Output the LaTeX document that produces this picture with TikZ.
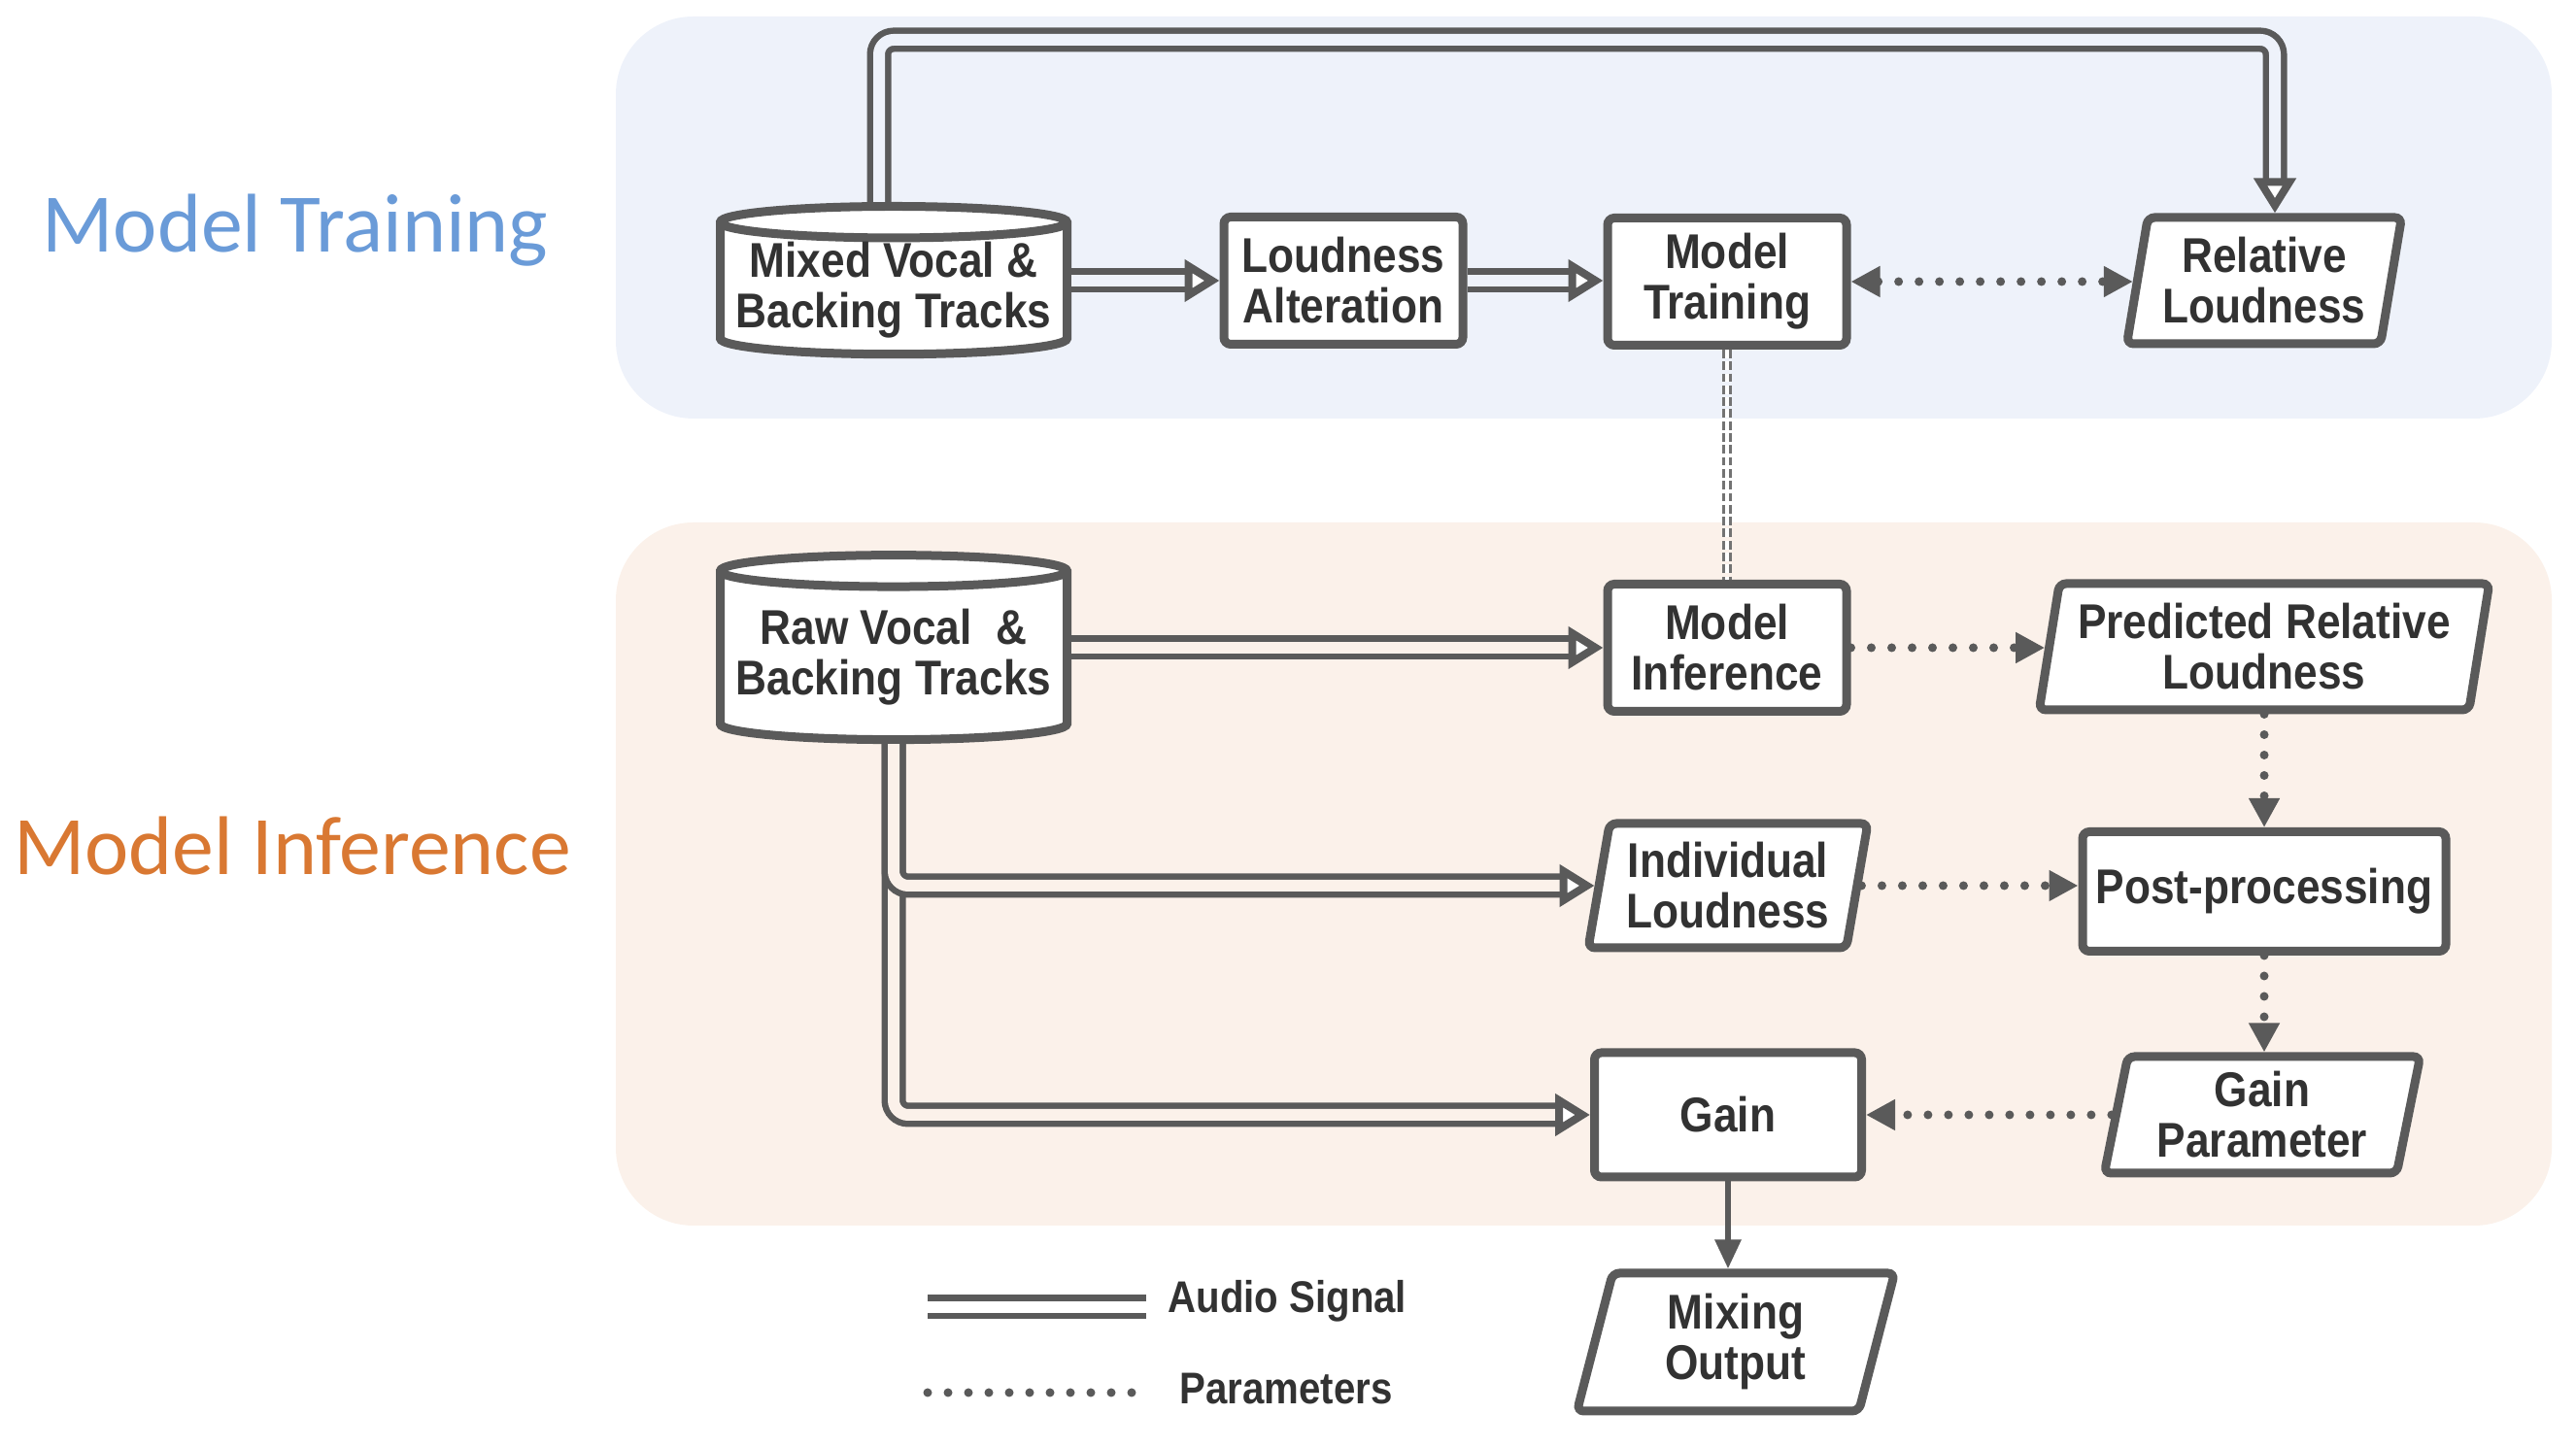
\documentclass[tikz,border=0pt]{standalone}
\usepackage{fontspec}
\setmainfont{Liberation Sans}[FakeStretch=0.88]
\newfontfamily\titlefont{Carlito}
\usepackage{tikz}
\usetikzlibrary{shapes.geometric,arrows.meta}

\definecolor{panelblue}{RGB}{238,242,250}
\definecolor{panelorange}{RGB}{251,241,234}
\definecolor{titleblue}{RGB}{106,155,216}
\definecolor{titleorange}{RGB}{217,120,50}
\definecolor{linegray}{RGB}{90,90,90}
\definecolor{textgray}{RGB}{50,50,50}

\begin{document}
\begin{tikzpicture}[
  box/.style={draw=linegray, line width=0.09cm, fill=white, text=textgray,
    font=\bfseries\fontsize{14.3}{14.8}\selectfont, align=center, inner sep=0pt},
  proc/.style={box, rectangle, rounded corners=2pt, minimum width=#1, minimum height=1.31cm},
  para/.style={box, trapezium, rounded corners=2pt, trapezium left angle=78,
    trapezium right angle=102, trapezium stretches=true, minimum width=#1, minimum height=1.30cm},
  db/.style={box, cylinder, shape border rotate=90, aspect=0.1, minimum width=3.57cm, minimum height=#1},
  title/.style={font=\titlefont\fontsize{24.4}{28}\selectfont},
  legend/.style={text=textgray, font=\bfseries\fontsize{13}{15}\selectfont},
  audio/.style={draw=linegray, line width=0.065cm, double distance=0.12cm, rounded corners=0.15cm,
    -{Triangle[open, fill=white, line width=0.08cm, length=0.36cm, width=0.42cm]}},
  param/.style={draw=linegray, line width=0.09cm, line cap=round, dash pattern=on 0pt off 0.21cm,
    >={Triangle[length=0.3cm, width=0.3cm]}, ->},
  single/.style={draw=linegray, line width=0.06cm, -{Triangle[length=0.3cm, width=0.26cm]}},
  link/.style={draw=gray!90!black, line width=0.6pt, double=white, double distance=1.4pt, dash pattern=on 2.5pt off 1pt}
]
  \useasboundingbox (0,0) rectangle (26.52,14.90);

  %% panels
  \fill[panelblue, rounded corners=0.8cm] (6.34,10.59) rectangle (26.27,14.73);
  \fill[panelorange, rounded corners=0.8cm] (6.34,2.28) rectangle (26.27,9.52);

  \node[title, text=titleblue] (ttrain) at (3.04,12.53) {Model Training};
  \node[title, text=titleorange] (tinfer) at (3.01,6.19) {Model Inference};

  %% training row
  \node[db=1.46cm] (mixed) at (9.20,11.91) {Mixed Vocal \&\\Backing Tracks};
  \node[proc=2.46cm] (alter) at (13.83,12.01) {Loudness\\Alteration};
  \node[proc=2.46cm] (train) at (17.78,12.00) {Model\\Training};
  \node[para=2.84cm] (rel) at (23.31,12.01) {Relative\\Loudness};

  %% inference part
  \node[db=1.90cm] (raw) at (9.20,8.13) {Raw Vocal\ \ \&\\Backing Tracks};
  \node[proc=2.46cm] (infer) at (17.78,8.23) {Model\\Inference};
  \node[para=4.64cm] (pred) at (23.31,8.24) {Predicted Relative\\Loudness};
  \node[para=2.89cm, minimum height=1.28cm] (indiv) at (17.79,5.78) {Individual\\Loudness};
  \node[proc=3.74cm, minimum height=1.23cm] (post) at (23.31,5.72) {Post-processing};
  \node[proc=2.75cm, minimum height=1.28cm] (gain) at (17.79,3.42) {Gain};
  \node[para=3.26cm, minimum height=1.20cm] (gpar) at (23.29,3.42) {Gain\\Parameter};
  \node[para=3.27cm, minimum height=1.42cm] (mix) at (17.87,1.08) {Mixing\\Output};

  \coordinate (loopL) at (9.05,14.49);
  \coordinate (loopR) at (23.42,14.49);

  \draw[audio, double=panelblue] (mixed.east |- alter.west) -- (alter.west); %% mixed->alter
  \draw[audio, double=panelblue] (alter.east) -- (alter.east -| train.west); %% alter->train
  \draw[audio, double=panelblue] (loopL |- mixed.north) -- (loopL) -- (loopR) -- (loopR |- rel.north);
  \draw[param, <->] (train.east) -- (train.east -| rel.west);
  \draw[link] (train.south) -- (infer.north);

  \draw[audio, double=panelorange] (raw.east |- infer.west) -- (infer.west); %% raw->infer
  \draw[audio, double=panelorange] (raw.south) |- (gain.west); %% raw->gain
  \draw[audio, double=panelorange] (raw.south) |- (indiv.west); %% raw->indiv
  \draw[param] (infer.east) -- (infer.east -| pred.west);
  \draw[param] (pred.south) -- (pred.south |- post.north);
  \draw[param] (indiv.east) -- (indiv.east -| post.west);
  \draw[param] (post.south) -- (post.south |- gpar.north);
  \draw[param] (gpar.west) -- (gpar.west -| gain.east);
  \draw[single] (gain.south) -- (gain.south |- mix.north); %% gain->mix

  %% legend
  \coordinate (audioA) at (9.55,1.44);
  \coordinate (audioB) at (11.80,1.44);
  \coordinate (paramA) at (9.55,0.56);
  \coordinate (paramB) at (11.80,0.56);
  \draw[audio, double=white, -] (audioA) -- (audioB);
  \node[legend, anchor=west] (audiotxt) at (11.90,1.50) {Audio Signal};
  \draw[param, -] (paramA) -- (paramB);
  \node[legend, anchor=west] (paramtxt) at (12.02,0.60) {Parameters};
\end{tikzpicture}
\end{document}
